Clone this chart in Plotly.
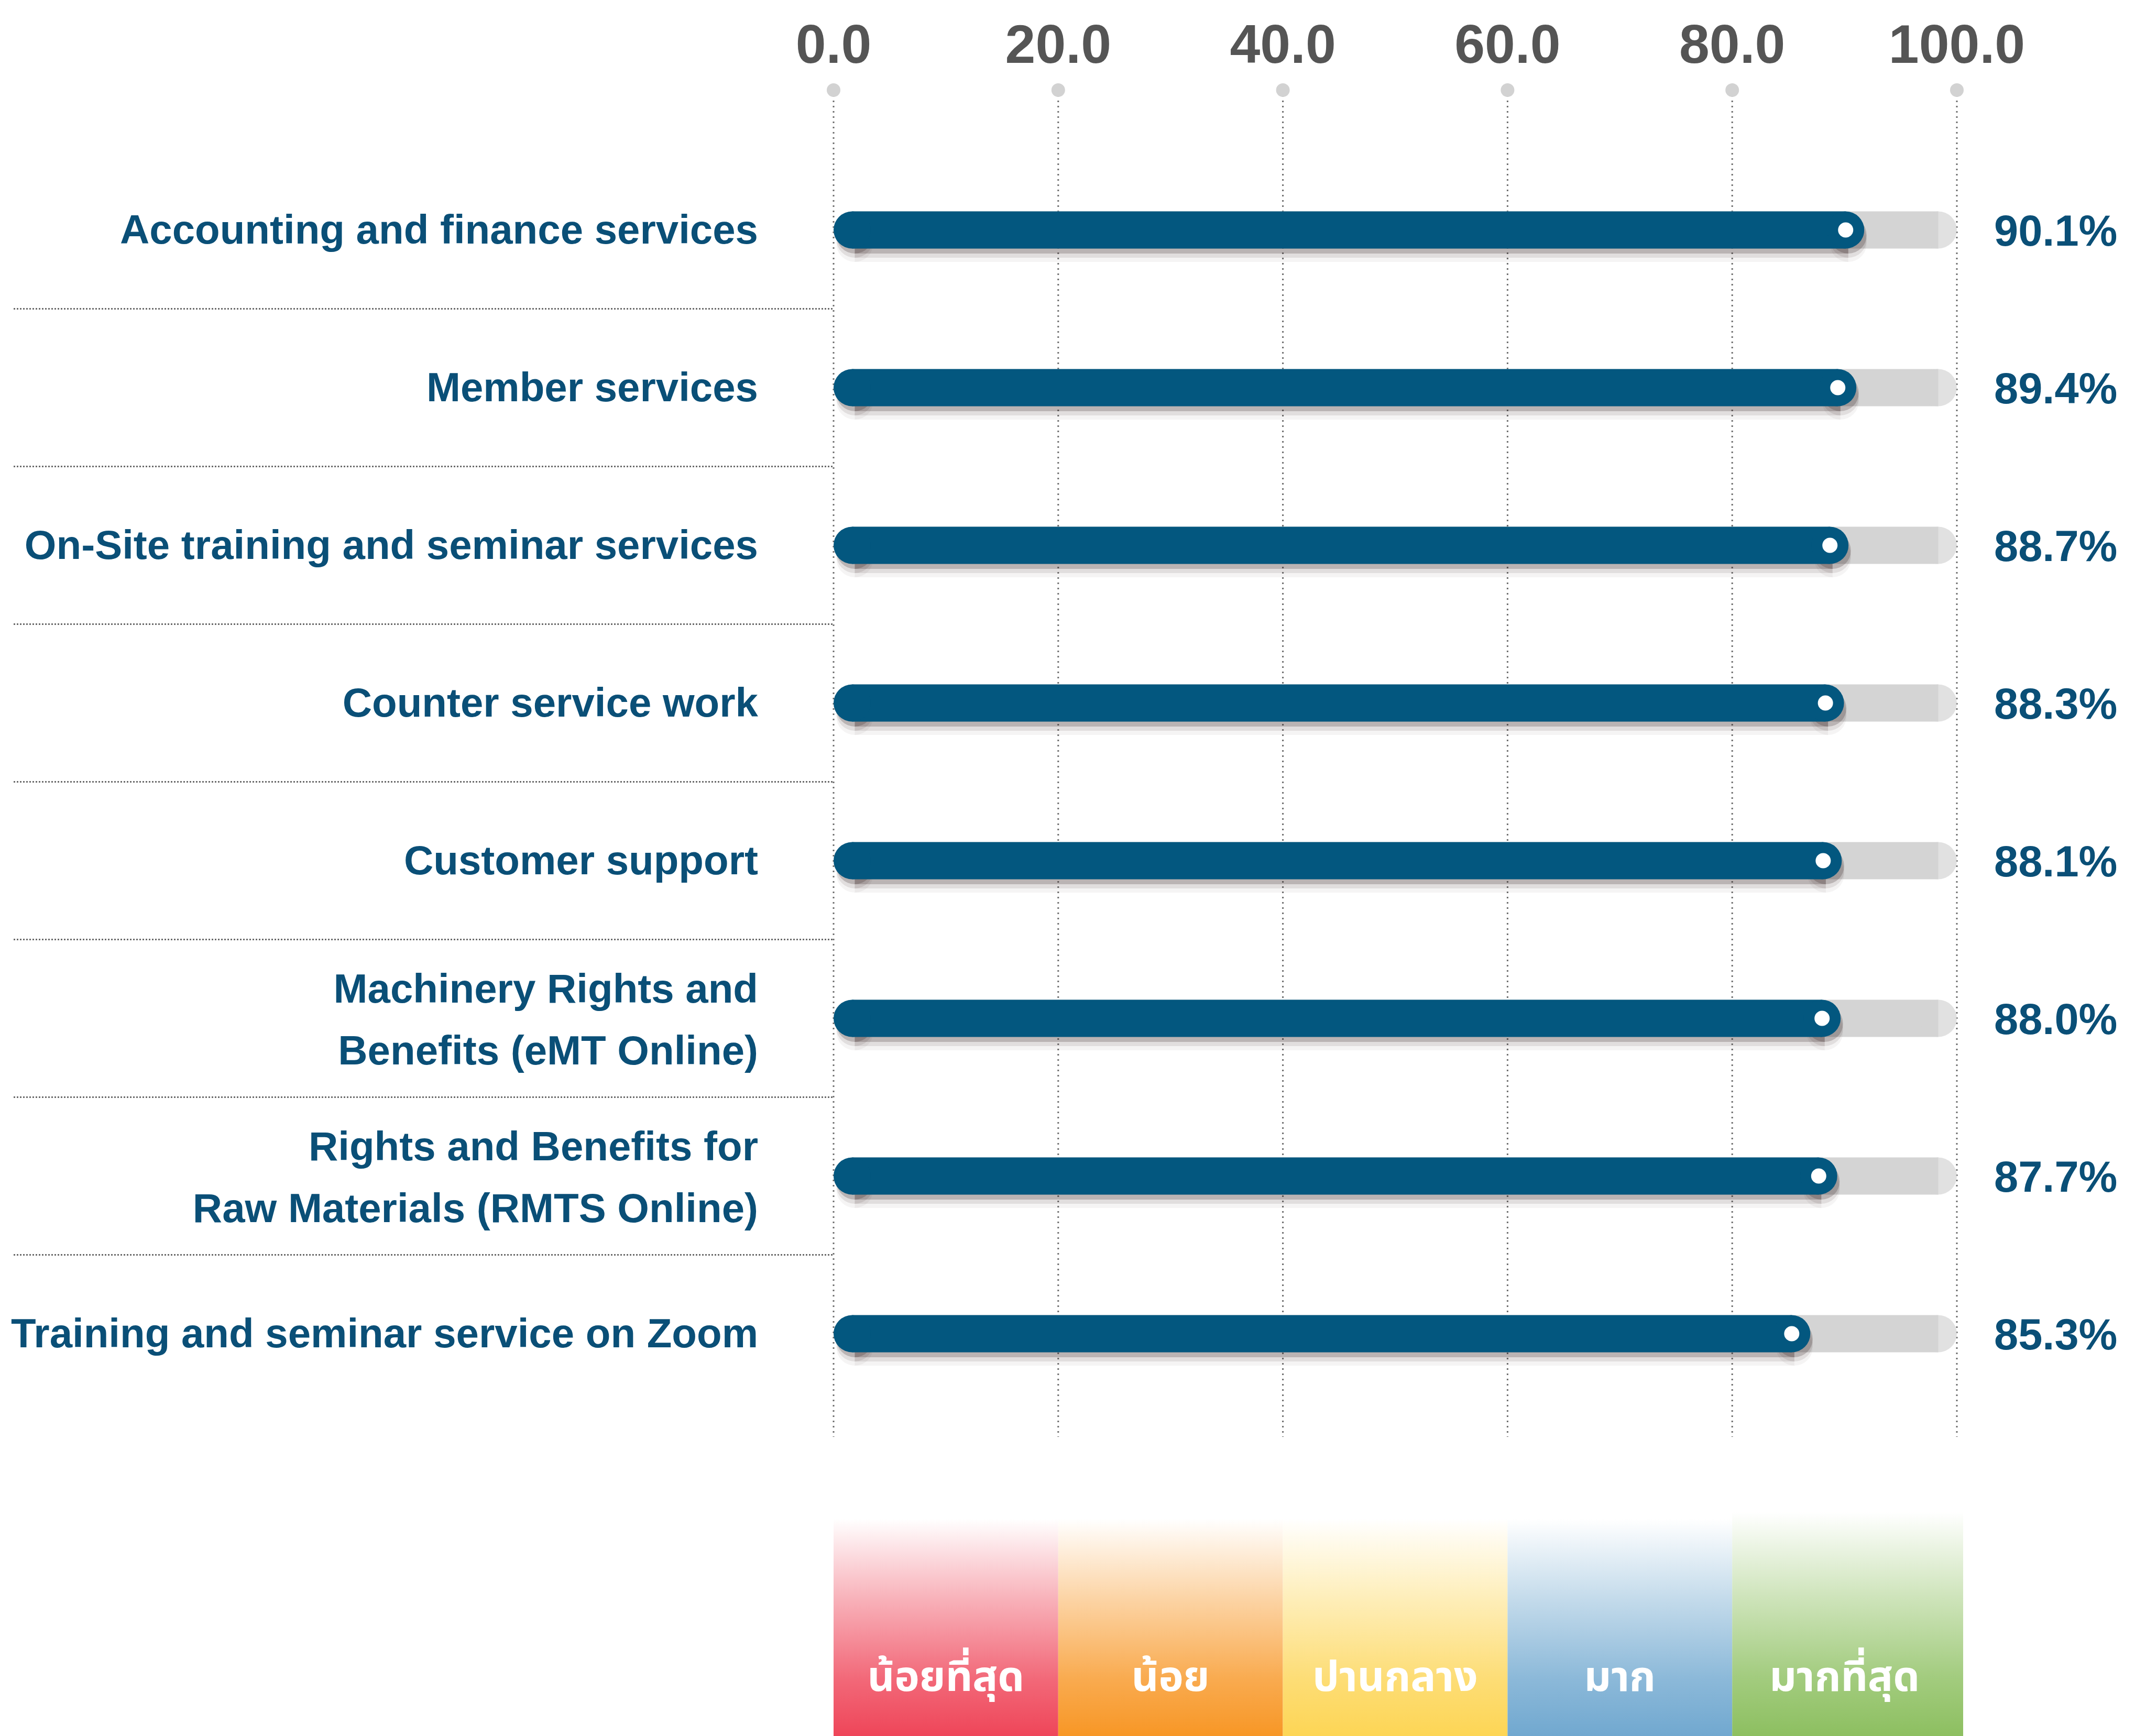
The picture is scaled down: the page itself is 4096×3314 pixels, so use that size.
import plotly.graph_objects as go

# ---------------- data ----------------
categories = [
    "Accounting and finance services",
    "Member services",
    "On-Site training and seminar services",
    "Counter service work",
    "Customer support",
    "Machinery Rights and<br>Benefits (eMT Online)",
    "Rights and Benefits for<br>Raw Materials (RMTS Online)",
    "Training and seminar service on Zoom",
]
values = [90.1, 89.4, 88.7, 88.3, 88.1, 88.0, 87.7, 85.3]
tick_values = [0, 20, 40, 60, 80, 100]
tick_labels = ["0.0", "20.0", "40.0", "60.0", "80.0", "100.0"]
scale_labels = ["น้อยที่สุด", "น้อย", "ปานกลาง", "มาก", "มากที่สุด"]
scale_edges = [0, 20, 40, 60, 80, 100]
scale_colors = ["#EE3F53", "#F7931E", "#FDD44F", "#6CA5CE", "#89BD5B"]

# ---------------- geometry / style ----------------
W, H = 4096, 3314
X0_PX, X100_PX = 1591, 3735          # pixel position of 0 and 100
PX = (X100_PX - X0_PX) / 100.0       # pixels per unit
ROW0_PX, ROW_PX = 439, 301           # first row centre, row spacing
x_range = [-X0_PX / PX, 100 + (W - X100_PX) / PX]
y_range = [(H - ROW0_PX) / ROW_PX, -ROW0_PX / ROW_PX]


def ypx(p):
    return (p - ROW0_PX) / ROW_PX


BAR_W = 71
R = BAR_W / 2 / PX
BLUE = "#03577F"
GREY_BAR = "#D4D4D4"
TEXT_BLUE = "#0A4F77"
FONT = "Liberation Sans, Arial, Helvetica, sans-serif"
THAI_FONT = "Noto Sans Thai, Noto Sans Thai UI, Loma, Garuda, Tlwg Typo, Sarabun, sans-serif"

rows = list(range(len(categories)))
fig = go.Figure()

# vertical dotted gridlines
g_top, g_bot = ypx(172), ypx(2743)
for tv in tick_values:
    fig.add_trace(go.Scatter(x=[tv, tv], y=[g_top, g_bot], mode="lines",
                             line=dict(color="#6E6E6E", width=3, dash="3px,7px"),
                             hoverinfo="skip", showlegend=False))
# tick dots
fig.add_trace(go.Scatter(x=tick_values, y=[g_top] * len(tick_values), mode="markers",
                         marker=dict(size=26, color="#D2D2D2"),
                         hoverinfo="skip", showlegend=False))
# tick labels
fig.add_trace(go.Scatter(x=tick_values, y=[ypx(94)] * len(tick_values), mode="text",
                         text=tick_labels, textposition="middle center",
                         textfont=dict(family=FONT, size=104, color="#555555", weight="bold"),
                         hoverinfo="skip", showlegend=False))

# horizontal dotted separators (left side)
sep_left = (26 - X0_PX) / PX
for r in rows[:-1]:
    fig.add_trace(go.Scatter(x=[sep_left, 0], y=[r + 0.5, r + 0.5], mode="lines",
                             line=dict(color="#6A6A6A", width=3, dash="3px,3px"),
                             hoverinfo="skip", showlegend=False))

# background grey bars (rounded right end at 100)
for r in rows:
    fig.add_trace(go.Scatter(x=[R, 100 - R], y=[r, r], mode="lines+markers",
                             line=dict(color=GREY_BAR, width=BAR_W),
                             marker=dict(size=[BAR_W, BAR_W], color=GREY_BAR, line=dict(width=0)),
                             hoverinfo="skip", showlegend=False))

# shadows
for off_px, alpha, wd in [(26, 0.05, 70), (18, 0.10, 70), (10, 0.22, 70)]:
    dy = off_px / ROW_PX
    dx = 5 / PX
    for r, v in zip(rows, values):
        fig.add_trace(go.Scatter(x=[R + dx, v + dx], y=[r + dy, r + dy], mode="lines+markers",
                                 line=dict(color=f"rgba(50,30,30,{alpha})", width=wd),
                                 marker=dict(size=wd, color=f"rgba(50,30,30,{alpha})", line=dict(width=0)),
                                 hoverinfo="skip", showlegend=False))

# blue value bars
for r, v in zip(rows, values):
    fig.add_trace(go.Scatter(x=[R, v], y=[r, r], mode="lines+markers",
                             line=dict(color=BLUE, width=BAR_W),
                             marker=dict(size=BAR_W, color=BLUE, line=dict(width=0)),
                             hoverinfo="skip", showlegend=False))
# white dots at value
fig.add_trace(go.Scatter(x=values, y=rows, mode="markers",
                         marker=dict(size=29, color="white", line=dict(width=0)),
                         hoverinfo="skip", showlegend=False))

# percentage labels
fig.add_trace(go.Scatter(x=[(3806 - X0_PX) / PX] * len(values), y=[r + 0.03 for r in rows],
                         mode="text", text=[f"{v:.1f}%" for v in values],
                         textposition="middle right",
                         textfont=dict(family=FONT, size=83, color=TEXT_BLUE, weight="bold"),
                         hoverinfo="skip", showlegend=False))

# category labels (each line separately for wider line spacing)
lab_x = (1447 - X0_PX) / PX
lx, ly, lt = [], [], []
half = 59 / ROW_PX
for r, c in zip(rows, categories):
    parts = c.split("<br>")
    if len(parts) == 1:
        lx.append(lab_x); ly.append(r + 0.02); lt.append(parts[0])
    else:
        lx += [lab_x, lab_x]; ly += [r - half + 0.03, r + half + 0.03]; lt += parts
fig.add_trace(go.Scatter(x=lx, y=ly, mode="text", text=lt, textposition="middle left",
                         textfont=dict(family=FONT, size=78, color=TEXT_BLUE, weight="bold"),
                         hoverinfo="skip", showlegend=False))


# legend bands with vertical gradient
def mix(hexc, t):
    h = hexc.lstrip("#")
    rgb = [int(h[i:i + 2], 16) for i in (0, 2, 4)]
    m = [round(c * (1 - t) + 255 * t) for c in rgb]
    return f"rgb({m[0]},{m[1]},{m[2]})"


band_bottom = ypx(H + 20)
for i, (lab, col) in enumerate(zip(scale_labels, scale_colors)):
    x_a = scale_edges[i]
    x_b = scale_edges[i + 1] + (0.56 if i == len(scale_labels) - 1 else 0)
    top = ypx(2886 if i == len(scale_labels) - 1 else 2899)
    fig.add_trace(go.Scatter(x=[x_a, x_b, x_b, x_a, x_a], y=[band_bottom, band_bottom, top, top, band_bottom],
                             mode="lines", fill="toself", line=dict(width=0),
                             fillgradient=dict(type="vertical",
                                               colorscale=[[0, mix(col, 0.0)], [0.3, mix(col, 0.22)],
                                                           [0.65, mix(col, 0.6)], [1, "rgb(255,255,255)"]]),
                             hoverinfo="skip", showlegend=False))

fig.add_trace(go.Scatter(x=[(scale_edges[i] + scale_edges[i + 1]) / 2 for i in range(len(scale_labels))],
                         y=[ypx(3208)] * len(scale_labels), mode="text", text=scale_labels,
                         textposition="middle center",
                         textfont=dict(family=THAI_FONT, size=80, color="white", weight="bold"),
                         hoverinfo="skip", showlegend=False))

fig.update_layout(
    width=W, height=H,
    margin=dict(l=0, r=0, t=0, b=0),
    paper_bgcolor="white", plot_bgcolor="white",
    xaxis=dict(range=x_range, visible=False, fixedrange=True),
    yaxis=dict(range=y_range, visible=False, fixedrange=True),
    showlegend=False,
)

fig.write_html("out.html")
